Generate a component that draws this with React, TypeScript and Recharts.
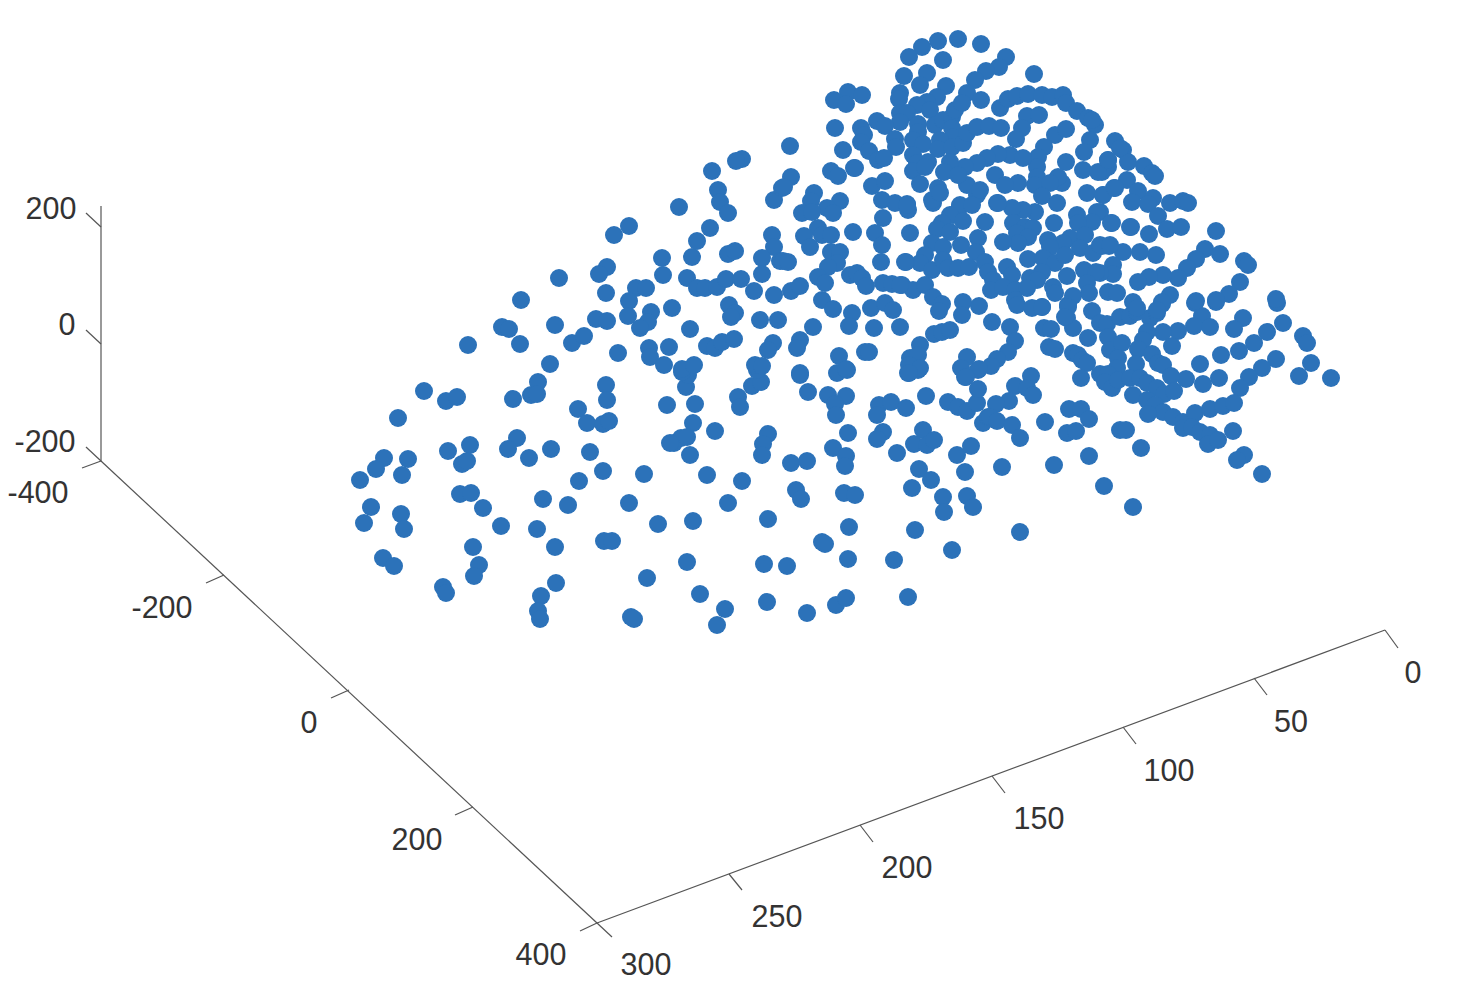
import { ScatterChart, Scatter, XAxis, YAxis, ReferenceLine, ReferenceDot } from "recharts";

const lowerLeftPoints = [
  [424,391],[446,401],[457,397],[398,418],[513,399],[538,382],[531,395],[537,394],[606,385],[607,400],
  [578,409],[587,423],[603,424],[609,421],[667,405],[448,451],[470,445],[384,458],[408,459],[376,469],
  [462,464],[467,461],[402,475],[360,480],[517,438],[508,449],[529,458],[551,449],[590,452],[603,471],
  [579,481],[644,474],[629,503],[658,524],[460,494],[471,493],[483,508],[501,526],[371,507],[401,514],
  [364,523],[404,529],[543,499],[568,505],[537,529],[555,547],[604,541],[612,541],[473,547],[383,558],
  [394,566],[479,565],[474,576],[647,578],[556,583],[541,596],[443,587],[446,593],[538,611],[540,619],
  [631,617],[634,619],
];

const lowerMiddlePoints = [
  [800,375],[808,392],[752,386],[761,382],[738,397],[740,407],[695,404],[686,387],[688,375],[682,372],
  [693,423],[715,431],[674,443],[681,438],[687,437],[690,455],[768,434],[763,444],[762,455],[791,463],
  [807,461],[833,448],[848,433],[846,456],[845,466],[828,395],[846,396],[835,404],[836,415],[707,475],
  [742,481],[728,503],[796,490],[801,499],[844,493],[855,495],[768,519],[693,521],[849,527],[822,542],
  [825,544],[687,562],[764,564],[787,566],[848,559],[894,560],[952,550],[915,530],[700,594],[725,609],
  [717,625],[767,602],[807,613],[836,605],[846,598],[908,597],[670,443],[757,370],[837,373],[847,370],
];

const lowerRightPoints = [
  [879,405],[877,415],[891,402],[906,408],[926,396],[883,432],[877,439],[897,453],[923,430],[914,444],
  [927,445],[934,440],[957,455],[971,446],[919,469],[931,480],[912,488],[965,472],[943,497],[944,512],
  [967,496],[973,507],[948,402],[958,407],[967,411],[977,403],[978,389],[983,423],[988,417],[908,373],
  [918,370],[965,377],[978,370],[1015,386],[1031,376],[1027,388],[1033,395],[1009,401],[996,404],[990,417],
  [997,421],[1012,425],[1020,438],[1045,422],[1069,409],[1081,409],[1089,419],[1067,433],[1076,431],[1089,456],
  [1054,465],[1002,467],[1020,532],[1104,486],[1133,507],[1141,448],[1120,430],[1126,430],
];

const rightEdgePoints = [
  [1042,307],[1068,305],[1067,318],[1073,328],[1092,311],[1044,328],[1051,329],[1049,347],[1055,349],[1088,338],
  [1073,353],[1078,355],[1082,360],[1087,363],[1081,378],[1100,323],[1107,324],[1120,317],[1130,316],[1137,312],
  [1133,302],[1150,318],[1157,313],[1162,304],[1195,303],[1216,302],[1277,303],[1202,316],[1243,318],[1194,326],
  [1210,327],[1234,329],[1283,323],[1267,332],[1254,343],[1239,351],[1303,336],[1307,343],[1221,355],[1200,364],
  [1276,359],[1262,368],[1249,377],[1240,388],[1311,363],[1299,376],[1331,378],[1219,378],[1203,384],[1186,379],
  [1178,331],[1163,332],[1172,346],[1147,332],[1143,340],[1138,349],[1108,337],[1110,350],[1122,343],[1118,358],
  [1152,354],[1158,363],[1163,365],[1171,376],[1136,364],[1117,368],[1100,374],[1108,374],[1105,382],[1112,388],
  [1118,380],[1130,378],[1140,378],[1147,383],[1157,388],[1164,394],[1174,391],[1133,395],[1147,400],[1155,405],
  [1163,412],[1148,414],[1173,417],[1183,422],[1183,428],[1195,413],[1192,427],[1200,432],[1210,435],[1208,444],
  [1218,440],[1210,409],[1223,406],[1234,403],[1233,431],[1244,455],[1237,460],[1262,474],
];

const upperRightPoints = [
  [1123,150],[1108,160],[1108,167],[1102,172],[1128,162],[1144,166],[1152,173],[1155,176],[1127,180],[1114,188],
  [1103,195],[1138,191],[1132,202],[1153,198],[1148,204],[1170,203],[1183,201],[1188,203],[1158,216],[1112,223],
  [1131,227],[1149,234],[1167,229],[1181,227],[1216,231],[1100,212],[1109,246],[1102,246],[1123,252],[1140,252],
  [1156,255],[1205,249],[1196,259],[1220,254],[1187,268],[1178,278],[1244,261],[1248,265],[1240,282],[1229,294],
  [1216,300],[1196,301],[1276,299],[1113,265],[1113,274],[1100,273],[1163,275],[1149,277],[1138,282],[1108,292],
  [1117,293],[1170,295],[1162,302],[1137,308],[1157,310],
];

const ridgePoints = [
  [958,39],[938,41],[922,47],[909,57],[981,44],[1006,57],[999,67],[986,71],[975,80],[943,60],
  [904,76],[927,73],[920,85],[946,86],[1034,74],[967,93],[981,100],[937,97],[927,102],[900,93],
  [899,99],[917,105],[930,110],[900,113],[907,113],[900,122],[848,92],[862,95],[834,100],[846,104],
  [835,128],[877,121],[885,126],[861,128],[864,135],[861,142],[869,151],[843,150],[854,168],[831,171],
  [838,176],[895,139],[896,147],[918,124],[918,132],[913,140],[923,144],[935,125],[943,120],[952,117],
  [955,110],[962,103],[952,128],[953,137],[940,140],[938,149],[952,147],[963,143],[967,133],[977,127],
  [989,126],[1001,128],[1000,108],[1008,99],[1017,96],[1028,94],[1042,95],[1052,97],[1063,95],[1066,103],
  [1077,111],[1088,118],[1095,125],[1092,120],[1027,116],[1039,115],[1022,128],[1016,139],[1055,135],[1066,129],
  [1044,147],[1038,157],[1037,167],[1037,177],[1035,185],[1066,162],[1090,140],[1084,152],[1115,141],[1120,148],
  [1083,170],[1098,172],[1108,160],[1010,155],[1023,158],[998,154],[987,158],[977,163],[965,167],[950,162],
  [944,172],[913,155],[917,163],[928,162],[913,171],[925,167],[878,160],[884,158],[872,186],[885,181],
  [920,184],[938,188],[933,203],[882,200],[895,203],[907,204],[908,210],[840,201],[827,208],[833,213],
  [883,218],[995,175],[1018,183],[1005,185],[967,185],[958,175],[1062,183],[1058,177],[1050,183],[1042,196],
  [1057,203],[1087,193],[1103,195],[1115,188],[1077,215],[1097,212],[997,203],[960,207],[977,195],[980,190],
  [1035,212],[1023,210],[1012,208],[953,215],
];

const corePoints = [
  [907,205],[910,233],[932,200],[940,193],[960,205],[950,215],[942,223],[937,229],[950,232],[963,221],
  [972,205],[998,203],[985,222],[978,238],[976,252],[1013,223],[1025,227],[1033,228],[1017,233],[1028,237],
  [1018,243],[1003,242],[1054,223],[1092,222],[1078,223],[1111,223],[1130,227],[1070,238],[1085,235],[1063,243],
  [1080,248],[1048,240],[1050,247],[961,245],[932,243],[943,247],[925,255],[920,263],[906,262],[932,270],
  [943,260],[948,268],[958,268],[969,267],[985,262],[988,272],[993,280],[1007,267],[1012,275],[1028,259],
  [1043,258],[1055,263],[1065,255],[1042,272],[1030,278],[1037,280],[1093,253],[1100,245],[1110,245],[1084,270],
  [1096,272],[1087,283],[1089,293],[1067,276],[1053,287],[1055,293],[1073,296],[1068,307],[1065,317],[902,285],
  [913,290],[925,285],[933,297],[942,304],[939,311],[963,302],[962,315],[979,306],[991,290],[1003,287],
  [1015,290],[1027,288],[1015,300],[1017,305],[992,322],[1010,327],[1015,341],[1032,308],[1042,307],[1008,352],
  [997,359],[991,366],[979,369],[967,357],[961,368],[966,377],[920,345],[910,358],[918,355],[909,365],
  [920,368],[909,373],[934,334],[942,332],[950,330],[874,328],[900,327],
];

const upperMiddlePoints = [
  [742,159],[736,161],[712,171],[718,190],[720,202],[728,213],[679,207],[774,200],[782,188],[629,226],
  [614,235],[710,228],[697,241],[692,257],[772,235],[774,247],[780,261],[728,254],[735,251],[662,258],
  [762,258],[762,274],[607,267],[599,274],[559,278],[663,275],[687,278],[697,288],[705,288],[717,287],
  [726,279],[741,279],[606,293],[636,288],[646,288],[629,301],[754,291],[774,295],[521,300],[729,305],
  [735,313],[731,317],[672,308],[651,312],[648,322],[640,328],[628,316],[596,319],[607,321],[502,327],
  [509,329],[555,325],[760,320],[778,320],[690,329],[520,344],[572,343],[584,336],[707,346],[715,348],
  [722,342],[734,339],[773,343],[768,350],[669,347],[649,348],[650,357],[618,353],[550,364],[664,365],
  [682,369],[694,365],[755,365],[762,366],[468,345],
];

const midBandPoints = [
  [790,146],[855,168],[791,177],[784,187],[814,193],[811,201],[802,213],[812,212],[818,228],[822,235],
  [831,235],[853,232],[875,233],[882,245],[804,236],[810,247],[831,252],[840,252],[837,263],[828,267],
  [783,261],[788,262],[881,262],[905,262],[818,277],[825,283],[850,275],[857,273],[862,278],[866,286],
  [883,283],[892,284],[900,285],[791,291],[800,286],[822,300],[833,309],[852,313],[849,326],[871,308],
  [885,303],[893,310],[813,327],[800,340],[797,348],[839,356],[865,352],[869,352],[846,369],[800,373],
];

const points = [
  ...lowerLeftPoints, ...lowerMiddlePoints, ...lowerRightPoints, ...rightEdgePoints,
  ...upperRightPoints, ...ridgePoints, ...corePoints, ...upperMiddlePoints, ...midBandPoints,
].map(([x, y]) => ({ x, y }));

// axis frame: [x1, y1, x2, y2]
const axisLines = [
  [101, 206, 101, 461],
  [101, 461, 597, 923],
  [597, 923, 1385, 630],
];
const tickMarks = [
  [101, 227, 86, 213], [101, 344, 86, 330], [101, 461, 86, 447], [101, 461, 82, 468],
  [224, 575, 206, 583], [349, 690, 331, 698], [473, 807, 455, 815], [597, 923, 580, 931],
  [1385, 630, 1398, 648], [1254, 678, 1267, 695], [1123, 727, 1136, 744], [992, 776, 1005, 793],
  [860, 825, 873, 842], [729, 874, 742, 890], [597, 923, 612, 937],
];
const tickLabels: [string, number, number][] = [
  ["200", 51, 208], ["0", 67, 324], ["-200", 45, 441], ["-400", 38, 492],
  ["-200", 162, 607], ["0", 309, 722], ["200", 417, 839], ["400", 541, 954],
  ["0", 1413, 672], ["50", 1291, 721], ["100", 1169, 770], ["150", 1039, 818],
  ["200", 907, 867], ["250", 777, 916], ["300", 646, 964],
];

const Dot = (props: any) => <circle cx={props.cx} cy={props.cy} r={9} fill='#2C72B9' />;

export default function App() {
  return (
    <div style={{ position: "absolute", left: 0, top: 0, width: 1478, height: 992, overflow: "hidden", background: "#fff" }}>
      <ScatterChart width={1478} height={992} margin={{ top: 0, right: 0, bottom: 0, left: 0 }}>
        <XAxis type='number' dataKey='x' domain={[0, 1478]} hide />
        <YAxis type='number' dataKey='y' domain={[0, 992]} reversed hide />
        {[...axisLines, ...tickMarks].map(([x1, y1, x2, y2], i) => (
          <ReferenceLine
            key={i}
            segment={[{ x: x1, y: y1 }, { x: x2, y: y2 }]}
            stroke='#555555'
            strokeWidth={1.2}
          />
        ))}
        {tickLabels.map(([text, x, y], i) => (
          <ReferenceDot
            key={i}
            x={x}
            y={y}
            r={0}
            stroke='none'
            label={{
              value: text,
              position: "center",
              fill: "#333333",
              fontSize: 30.5,
              fontFamily: "Liberation Sans",
            }}
          />
        ))}
        <Scatter data={points} shape={Dot} isAnimationActive={false} />
      </ScatterChart>
    </div>
  );
}
